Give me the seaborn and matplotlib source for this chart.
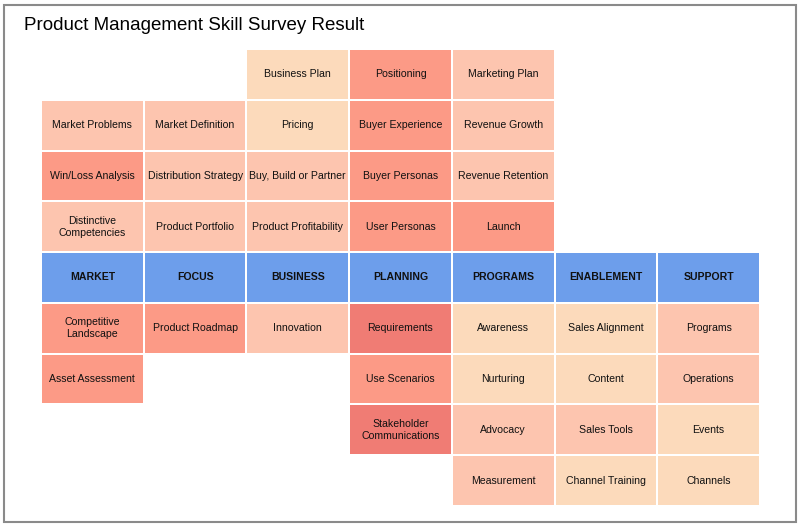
import numpy as np
import matplotlib
matplotlib.use("Agg")
import matplotlib.pyplot as plt
from matplotlib.colors import ListedColormap
from matplotlib.patches import Rectangle
import seaborn as sns

# Skill labels per grid row (None = empty cell); row 4 holds the category headers
labels = [
    [None, None, "Business Plan", "Positioning", "Marketing Plan", None, None],
    ["Market Problems", "Market Definition", "Pricing", "Buyer Experience", "Revenue Growth", None, None],
    ["Win/Loss Analysis", "Distribution Strategy", "Buy, Build or Partner", "Buyer Personas", "Revenue Retention", None, None],
    ["Distinctive\nCompetencies", "Product Portfolio", "Product Profitability", "User Personas", "Launch", None, None],
    ["MARKET", "FOCUS", "BUSINESS", "PLANNING", "PROGRAMS", "ENABLEMENT", "SUPPORT"],
    ["Competitive\nLandscape", "Product Roadmap", "Innovation", "Requirements", "Awareness", "Sales Alignment", "Programs"],
    ["Asset Assessment", None, None, "Use Scenarios", "Nurturing", "Content", "Operations"],
    [None, None, None, "Stakeholder\nCommunications", "Advocacy", "Sales Tools", "Events"],
    [None, None, None, None, "Measurement", "Channel Training", "Channels"],
]

# Survey level per cell (0 = header, 1 = lowest need ... 4 = highest need)
levels = [
    [None, None, 1, 3, 2, None, None],
    [2, 2, 1, 3, 2, None, None],
    [3, 2, 2, 3, 2, None, None],
    [2, 2, 2, 3, 3, None, None],
    [0, 0, 0, 0, 0, 0, 0],
    [3, 3, 2, 4, 1, 1, 2],
    [3, None, None, 3, 1, 1, 2],
    [None, None, None, 4, 2, 2, 1],
    [None, None, None, None, 2, 1, 1],
]

palette = ["#6D9EEB", "#FCDABB", "#FDC5AF", "#FC9A86", "#F07C74"]

grid = np.array([[np.nan if v is None else v for v in row] for row in levels], dtype=float)
annot = np.array([["" if t is None else t for t in row] for row in labels], dtype=object)

plt.rcParams["font.family"] = ["Liberation Sans", "DejaVu Sans"]

fig = plt.figure(figsize=(8, 5.26), dpi=100)
ax = fig.add_axes([41 / 800, 1 - 506 / 526, 719 / 800, 457 / 526])

sns.heatmap(grid, ax=ax, cmap=ListedColormap(palette), vmin=-0.5, vmax=4.5,
            annot=annot, fmt="", cbar=False, linewidths=1.2, linecolor="white",
            annot_kws={"fontsize": 7.6, "color": "#111111"})

for t in ax.texts:
    if t.get_text() in labels[4]:
        t.set_fontweight("bold")

ax.set_xticks([])
ax.set_yticks([])
for s in ax.spines.values():
    s.set_visible(False)

fig.text(24 / 800, 1 - 25 / 526, "Product Management Skill Survey Result",
         fontsize=13.5, va="center", ha="left")

fig.patches.append(Rectangle((4 / 800, 4 / 526), 792 / 800, 517 / 526, transform=fig.transFigure,
                             fill=False, edgecolor="#8a8a8a", linewidth=1.5))

fig.savefig("out.png", dpi=100)
